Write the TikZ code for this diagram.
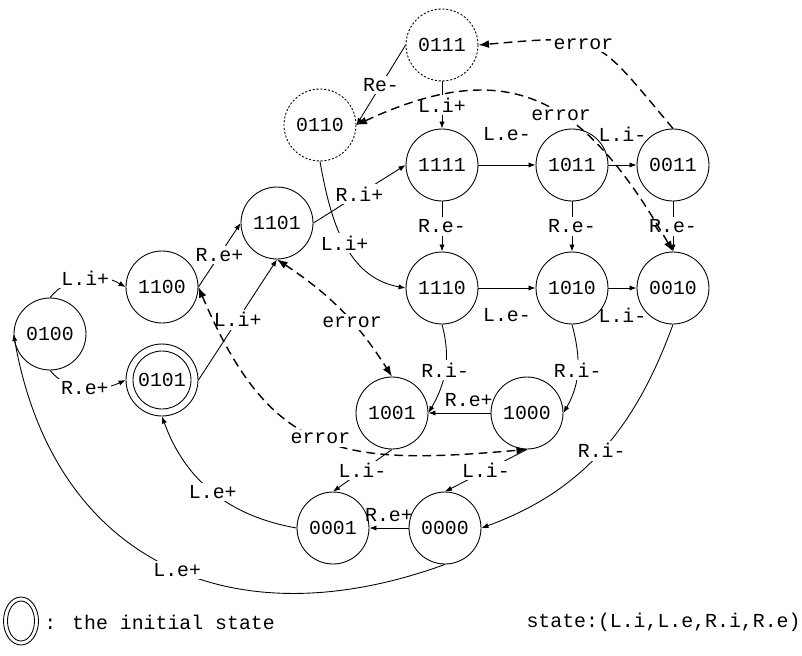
\documentclass[tikz,border=0pt]{standalone}
\usepackage{fontspec}
\setmainfont{Liberation Mono}
\usetikzlibrary{arrows.meta}
\usetikzlibrary{calc}

\begin{document}
\begin{tikzpicture}[x=0.02cm, y=0.02cm, line width=0.5pt,
                font=\fontsize{11.3}{13}\selectfont,
                >={Latex[length=4pt,width=3pt]},
                state/.style={circle, draw, minimum size=1.44cm, inner sep=0pt},
                ghost/.style={state, dash pattern=on 1.2pt off 1pt},
                lab/.style={fill=white, inner sep=1.5pt},
                err/.style={line width=0.8pt, dash pattern=on 5pt off 3pt, >={Latex[length=6pt,width=4.5pt]}}]
                \useasboundingbox (0,0) rectangle (802,-656);

                \node[ghost] (s0111) at (442,-45) {0111};
                \node[ghost] (s0110) at (320,-125) {0110};
                \node[state] (s1111) at (442,-165) {1111};
                \node[state] (s1011) at (572,-165) {1011};
                \node[state] (s0011) at (673,-165) {0011};
                \node[state] (s1101) at (277,-223) {1101};
                \node[state] (s1100) at (162,-287) {1100};
                \node[state] (s1110) at (442,-288) {1110};
                \node[state] (s1010) at (572,-288) {1010};
                \node[state] (s0010) at (673,-288) {0010};
                \node[state] (s0100) at (50,-334) {0100};
                \node[state] (s0101) at (162,-380) {0101};
                \node[state] (s1001) at (392,-413) {1001};
                \node[state] (s1000) at (527,-413) {1000};
                \node[state] (s0001) at (333,-528) {0001};
                \node[state] (s0000) at (445,-528) {0000};
                \draw (s0101.center) circle[radius=0.58cm];

                \draw[->] (s0111.west) to node[lab] {Re-} (s0110.east);
                \draw[->] (s0111) to node[lab] {L.i+} (s1111);
                \draw[->] (s1111) to node[above=10pt] {L.e-} (s1011);
                \draw[->] (s1011) to node[above=10pt] {L.i-} (s0011);
                \draw[->] (s1111) to node[lab] {R.e-} (s1110);
                \draw[->] (s1011) to node[lab] {R.e-} (s1010);
                \draw[->] (s0011) to node[lab] {R.e-} (s0010);
                \draw[->] (s1110) to node[below=8pt] {L.e-} (s1010);
                \draw[->] (s1010) to node[below=8pt] {L.i-} (s0010);
                \draw[->] (s1101.east) to node[lab] {R.i+} (s1111.west);
                \draw[->] (s1100.east) to node[lab] {R.e+} (s1101.west);
                \draw[->] (s0101.east) to node[lab] {L.i+} (s1101.south);
                \draw[->] (s0100.north) to[out=50, in=150] node[lab] {L.i+} (s1100.west);
                \draw[->] (s0100.south) to[out=-50, in=205] node[lab] {R.e+} (s0101.west);
                \draw[->] (s0110.south) to[out=-80, in=170] node[lab] {L.i+} (s1110.west);
                \draw[->] (s1110.south) to[out=-75, in=60] node[lab] {R.i-} (s1001.east);
                \draw[->] (s1010.south) to[out=-75, in=60] node[lab] {R.i-} (s1000.east);
                \draw[->] (s1000) to node[above, pos=0.35] {R.e+} (s1001);
                \draw[->] (s0000) to node[above] {R.e+} (s0001);
                \draw[->] (s1001.south) to node[lab] {L.i-} (s0001.north);
                \draw[->] (s1000.south) to node[lab] {L.i-} (s0000.north);
                \draw[->] (s0010.south) to[out=-110, in=20] node[lab] {R.i-} (s0000.east);
                \draw[->] (s0001.west) to[out=170, in=-70] node[lab] {L.e+} (s0101.south);
                \draw[->] (s0000.south) to[out=-160, in=-80, looseness=1.2] node[lab, pos=0.47] {L.e+} (s0100.west);

                \draw[err, ->] (s0011.north) to[out=130, in=5, looseness=1.5] node[lab, pos=0.56] {error} (s0111.east);
                \draw[err, <->] (s0110.east) to[out=25, in=120, looseness=1.3] node[lab, pos=0.57] {error} (s0010.north);
                \draw[err, <->] (s1101.south) to[bend left=12] node[lab, pos=0.6] {error} (s1001.north);
                \draw[err, <->] (s1100.east) to[out=-67, in=185, looseness=1.3] node[lab] {error} (s1000.south);

                \draw (21,-621) ellipse[x radius=0.35cm, y radius=0.48cm];
                \draw (21,-621) ellipse[x radius=0.27cm, y radius=0.4cm];
                \node[anchor=west, inner sep=0pt] (legend) at (44,-622) {: the initial state};
                \node[anchor=east, inner sep=0pt] (tuple) at (801,-622) {state:(L.i,L.e,R.i,R.e)};
            \end{tikzpicture}
\end{document}
